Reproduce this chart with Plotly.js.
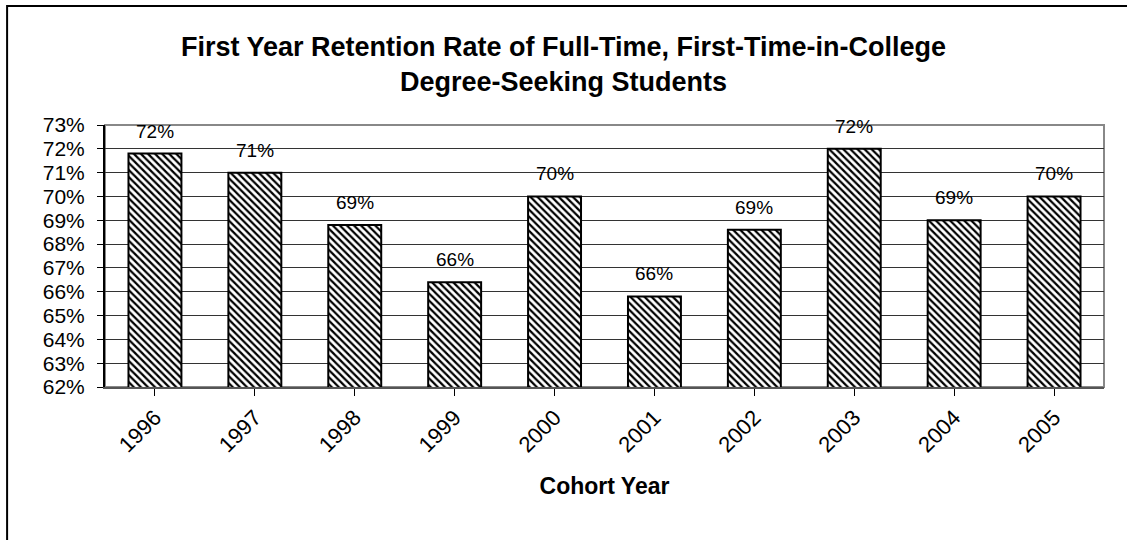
<!DOCTYPE html>
<html>
<head>
<meta charset="utf-8">
<script src="https://cdn.plot.ly/plotly-3.0.1.min.js"></script>
<style>html,body{margin:0;padding:0;background:#fff;}#chart{width:1127px;height:540px;}</style>
</head>
<body>
<div id="chart"></div>
<script>
const cohortYears = ['1996','1997','1998','1999','2000','2001','2002','2003','2004','2005'];
const retentionRate = [71.8, 71.0, 68.8, 66.4, 70.0, 65.8, 68.6, 72.0, 69.0, 70.0];
const yTicks = [62,63,64,65,66,67,68,69,70,71,72,73];

const font = 'Arial, "Liberation Sans", sans-serif';

const trace = {
  type: 'bar',
  x: cohortYears,
  y: retentionRate,
  marker: {
    color: 'white',
    line: {color: 'black', width: 2},
    pattern: {shape: '\\', fgcolor: 'black', bgcolor: 'white', size: 5, solidity: 0.45}
  },
  hoverinfo: 'skip'
};

const annotations = cohortYears.map((c, i) => ({
  x: i, y: retentionRate[i], xref: 'x', yref: 'y',
  text: Math.round(retentionRate[i]) + '%',
  showarrow: false, yanchor: 'bottom', yshift: 10,
  font: {family: font, size: 19, color: 'black'}
}));

const layout = {
  width: 1127, height: 540,
  margin: {l: 105, r: 23, t: 125, b: 153},
  paper_bgcolor: 'white', plot_bgcolor: 'white',
  showlegend: false,
  bargap: 0.47,
  title: {
    text: '<b>First Year Retention Rate of Full-Time, First-Time-in-College<br>Degree-Seeking Students</b>',
    font: {family: font, size: 27, color: 'black'},
    x: 0.5, xanchor: 'center', xref: 'container', y: 0.897, yanchor: 'middle'
  },
  xaxis: {
    type: 'category',
    range: [-0.5, 9.5],
    autorange: false,
    tickangle: -45,
    tickfont: {family: font, size: 22, color: 'black'},
    ticks: 'outside', ticklen: 7, tickcolor: 'black',
    showline: true, linecolor: '#555', linewidth: 2,
    showgrid: false,
    title: {text: '<b>Cohort Year</b>', font: {family: font, size: 23, color: 'black'}, standoff: 22}
  },
  yaxis: {
    range: [62, 73],
    autorange: false,
    tickvals: yTicks,
    ticktext: yTicks.map(v => v + '%'),
    tickfont: {family: font, size: 21, color: 'black'},
    ticks: 'outside', ticklen: 6, tickcolor: 'black',
    ticklabelstandoff: 8,
    showline: true, linecolor: 'black', linewidth: 2,
    showgrid: true, gridcolor: '#333', gridwidth: 1,
    zeroline: false
  },
  shapes: [
    {type: 'rect', xref: 'paper', yref: 'paper', x0: 0, x1: 1, y0: 0, y1: 1,
     line: {color: '#888', width: 2}, layer: 'below'},
    {type: 'rect', xref: 'paper', yref: 'paper', x0: -0.098, x1: 1.1, y0: -1, y1: 1.454,
     line: {color: 'black', width: 2}}
  ],
  annotations: annotations
};

Plotly.newPlot('chart', [trace], layout, {staticPlot: true});
</script>
</body>
</html>
